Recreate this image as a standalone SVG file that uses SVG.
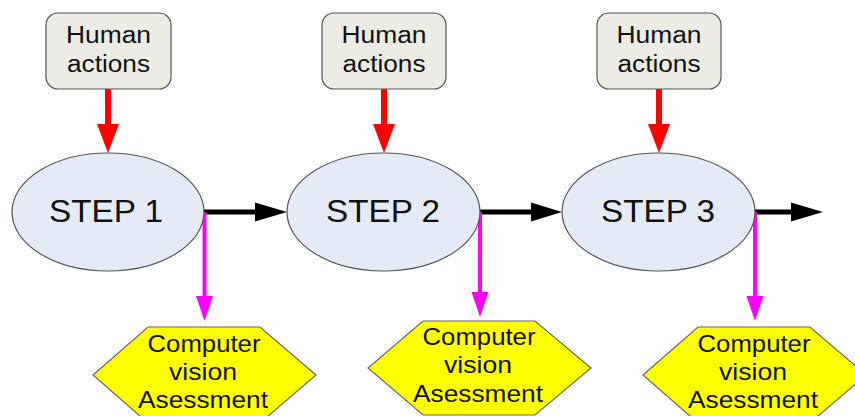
<svg xmlns="http://www.w3.org/2000/svg" width="855" height="416" viewBox="0 0 855 416">
  <style>
    .box { fill: #ececE4; stroke: #555; stroke-width: 1.2; }
    .step { fill: #e5ebf6; stroke: #555; stroke-width: 1.2; }
    .hex { fill: #ffff00; stroke: #666; stroke-width: 1.2; }
    text { font-family: "Liberation Sans", Arial, sans-serif; fill: #111; text-anchor: middle; }
    .lbl { font-size: 23px; }
    .stp { font-size: 31px; }
    .cv { font-size: 24px; }
    .red { stroke: #ff0000; stroke-width: 6; fill: none; }
    .blk { stroke: #000; stroke-width: 5; fill: none; }
    .mag { stroke: #ff00ff; stroke-width: 4; fill: none; }
  </style>
  <defs>
    <marker id="headRed" viewBox="0 0 22 29" refX="22" refY="11" markerWidth="22" markerHeight="29" markerUnits="userSpaceOnUse" orient="auto">
      <path d="M0,0 L22,11 L0,22 Z" fill="#ff0000"/>
    </marker>
  </defs>

  <!-- connectors -->
  <g id="connectors">
    <!-- human actions to steps -->
    <line class="red" x1="108" y1="89" x2="108" y2="125"/>
    <polygon points="97,124 119,124 108,153" fill="#ff0000"/>
    <line class="red" x1="384" y1="89" x2="384" y2="125"/>
    <polygon points="373,124 395,124 384,153" fill="#ff0000"/>
    <line class="red" x1="659" y1="89" x2="659" y2="125"/>
    <polygon points="648,124 670,124 659,153" fill="#ff0000"/>

    <!-- step to step flow -->
    <line class="blk" x1="203" y1="212" x2="256" y2="212"/>
    <polygon points="255,202.5 287,212 255,221.5" fill="#000"/>
    <line class="blk" x1="479" y1="212" x2="532" y2="212"/>
    <polygon points="531,202.5 562,212 531,221.5" fill="#000"/>
    <line class="blk" x1="754" y1="212" x2="792" y2="212"/>
    <polygon points="791,202.5 823,212 791,221.5" fill="#000"/>

    <!-- steps to assessment -->
    <line class="mag" x1="204.5" y1="212" x2="204.5" y2="297"/>
    <polygon points="196,296 213,296 204.5,321" fill="#ff00ff"/>
    <line class="mag" x1="480" y1="212" x2="480" y2="293"/>
    <polygon points="471.5,292 488.5,292 480,317" fill="#ff00ff"/>
    <line class="mag" x1="755" y1="212" x2="755" y2="297"/>
    <polygon points="746.5,296 763.5,296 755,321" fill="#ff00ff"/>
  </g>

  <g id="human1">
    <rect class="box" x="46" y="13" width="125" height="76" rx="12"/>
    <text class="lbl" x="108.5" y="43" textLength="85" lengthAdjust="spacingAndGlyphs">Human</text>
    <text class="lbl" x="108.5" y="72" textLength="83" lengthAdjust="spacingAndGlyphs">actions</text>
  </g>
  <g id="human2">
    <rect class="box" x="322" y="13" width="124" height="76" rx="12"/>
    <text class="lbl" x="384" y="43" textLength="85" lengthAdjust="spacingAndGlyphs">Human</text>
    <text class="lbl" x="384" y="72" textLength="83" lengthAdjust="spacingAndGlyphs">actions</text>
  </g>
  <g id="human3">
    <rect class="box" x="597" y="13" width="124" height="76" rx="12"/>
    <text class="lbl" x="659" y="43" textLength="85" lengthAdjust="spacingAndGlyphs">Human</text>
    <text class="lbl" x="659" y="72" textLength="83" lengthAdjust="spacingAndGlyphs">actions</text>
  </g>

  <g id="step1">
    <ellipse class="step" cx="108" cy="212" rx="96" ry="59"/>
    <text class="stp" x="106" y="222" textLength="114" lengthAdjust="spacingAndGlyphs">STEP 1</text>
  </g>
  <g id="step2">
    <ellipse class="step" cx="383.5" cy="212" rx="96.5" ry="59"/>
    <text class="stp" x="383" y="222" textLength="114" lengthAdjust="spacingAndGlyphs">STEP 2</text>
  </g>
  <g id="step3">
    <ellipse class="step" cx="658.5" cy="212" rx="96.5" ry="59"/>
    <text class="stp" x="658" y="222" textLength="114" lengthAdjust="spacingAndGlyphs">STEP 3</text>
  </g>

  <g id="assess1">
    <polygon class="hex" points="148,327 260,327 316,375 260,423 148,423 93,375"/>
    <text class="cv" x="204" y="352" textLength="113" lengthAdjust="spacingAndGlyphs">Computer</text>
    <text class="cv" x="203" y="380" textLength="68" lengthAdjust="spacingAndGlyphs">vision</text>
    <text class="cv" x="203" y="408" textLength="130" lengthAdjust="spacingAndGlyphs">Asessment</text>
  </g>
  <g id="assess2">
    <polygon class="hex" points="423,321 535,321 591,368 535,415 423,415 368,368"/>
    <text class="cv" x="479" y="345" textLength="113" lengthAdjust="spacingAndGlyphs">Computer</text>
    <text class="cv" x="478" y="373" textLength="68" lengthAdjust="spacingAndGlyphs">vision</text>
    <text class="cv" x="478" y="402" textLength="130" lengthAdjust="spacingAndGlyphs">Asessment</text>
  </g>
  <g id="assess3">
    <polygon class="hex" points="698,327 810,327 866,375 810,423 698,423 643,375"/>
    <text class="cv" x="754" y="352" textLength="113" lengthAdjust="spacingAndGlyphs">Computer</text>
    <text class="cv" x="753" y="380" textLength="68" lengthAdjust="spacingAndGlyphs">vision</text>
    <text class="cv" x="753" y="408" textLength="130" lengthAdjust="spacingAndGlyphs">Asessment</text>
  </g>
</svg>
